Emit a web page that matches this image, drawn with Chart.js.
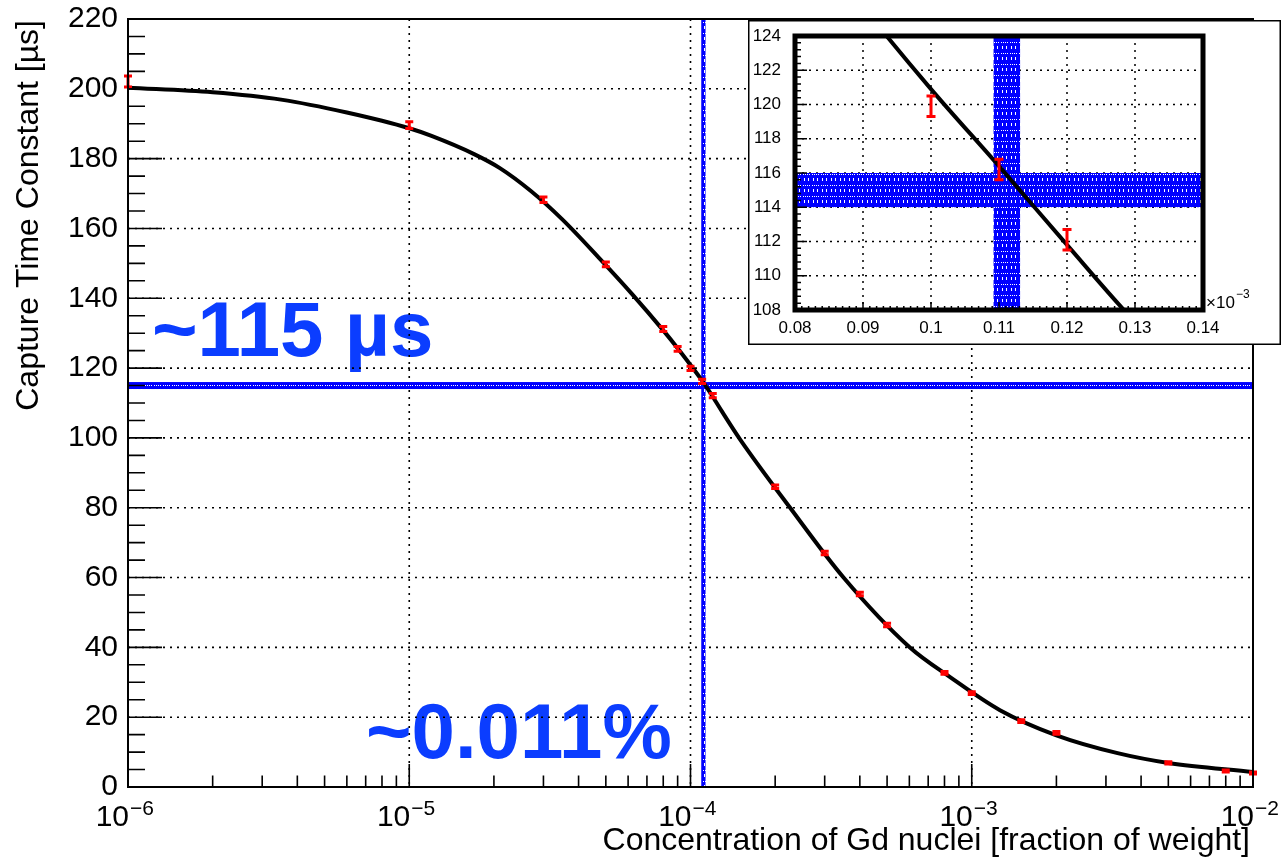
<!DOCTYPE html>
<html>
<head>
<meta charset="utf-8">
<script src="https://cdn.jsdelivr.net/npm/chart.js@4.4.0/dist/chart.umd.min.js"></script>
<style>
  html, body { margin: 0; padding: 0; background: #fff; overflow: hidden; }
  #wrap { position: relative; width: 1283px; height: 858px; }
  #main { position: absolute; left: 0; top: 0; }
  #inset { position: absolute; left: 748px; top: 20px; }
</style>
</head>
<body>
<div id="wrap">
  <canvas id="main" width="1283" height="858"></canvas>
  <canvas id="inset" width="533" height="325"></canvas>
</div>
<script>
// Measured neutron capture time constants [µs] vs Gd concentration (fraction of weight)
const concentrations = [1e-6, 1e-5, 3e-5, 5e-5, 8e-5, 9e-5, 1e-4, 1.1e-4, 1.2e-4, 2e-4, 3e-4, 4e-4, 5e-4, 8e-4, 1e-3, 1.5e-3, 2e-3, 5e-3, 8e-3, 1e-2];
const captureTimes   = [202.1, 189.6, 168.2, 149.7, 131.2, 125.5, 119.9, 116.2, 112.1, 86.0, 67.0, 55.3, 46.4, 32.7, 26.9, 18.9, 15.5, 6.9, 4.6, 4.0];
const captureErrors  = [1.6, 1.0, 0.8, 0.7, 0.7, 0.7, 0.6, 0.6, 0.6, 0.5, 0.5, 0.5, 0.5, 0.4, 0.4, 0.4, 0.4, 0.3, 0.3, 0.3];

// Fitted curve, sampled along the concentration axis
const fitConcentrations = [1e-6, 2e-6, 3.5e-6, 6e-6, 1e-5, 1.2e-5, 1.7e-5, 2.1e-5, 2.7e-5, 3.5e-5, 4.7e-5, 6.2e-5, 8e-5, 9e-5, 1e-4, 1.1e-4, 1.2e-4, 1.3e-4, 1.5e-4, 2.25e-4, 3.5e-4, 6e-4, 8.4e-4, 1.26e-3, 2e-3, 3.3e-3, 5e-3, 1e-2];
const fitTimes          = [200.3, 199.0, 196.9, 193.2, 188.7, 186.5, 181.3, 177.3, 170.8, 162.6, 151.8, 141.2, 130.8, 125.7, 120.9, 116.4, 111.8, 107.3, 99.6, 80.2, 60.0, 40.1, 31.4, 22.0, 14.8, 9.7, 6.9, 4.3];

// Chosen working point: time-constant band and concentration band
const workingTimeBand = [114, 116];
const workingConcBand = [1.092e-4, 1.131e-4];

// Axis ticks
const decadeTicks = [1e-6, 1e-5, 1e-4, 1e-3, 1e-2];
const decadeExponents = ['\u22126', '\u22125', '\u22124', '\u22123', '\u22122'];
const insetTicks = [0.08, 0.09, 0.10, 0.11, 0.12, 0.13, 0.14];
const insetTickLabels = ['0.08', '0.09', '0.1', '0.11', '0.12', '0.13', '0.14'];

const FONT = '"Liberation Sans", Arial, Helvetica, sans-serif';
Chart.defaults.font.family = FONT;
Chart.defaults.color = '#000';

const BLUE = '#0000ff';
const TEXT_BLUE = '#0b3dff';

function makeHatch(ctx) {
  const c = document.createElement('canvas');
  c.width = 9; c.height = 11;
  const g = c.getContext('2d');
  g.fillStyle = BLUE; g.fillRect(0, 0, 9, 11);
  g.fillStyle = '#ffffff';
  [1, 3, 5, 7].forEach(px => g.fillRect(px, 0, 1, 1));
  g.fillRect(2, 4, 1, 3);
  g.fillRect(6, 4, 1, 3);
  return ctx.createPattern(c, 'repeat');
}

function dottedLine(ctx, x1, y1, x2, y2) {
  ctx.beginPath();
  ctx.moveTo(x1, y1); ctx.lineTo(x2, y2);
  ctx.stroke();
}

function noScalePadding(s) {
  s.paddingTop = 0; s.paddingBottom = 0; s.paddingLeft = 0; s.paddingRight = 0;
}

function drawBands(chart, toX, xMin, xMax, yMin, yMax) {
  const { ctx, chartArea: a, scales: { x, y } } = chart;
  ctx.save();
  ctx.beginPath(); ctx.rect(a.left, a.top, a.right - a.left, a.bottom - a.top); ctx.clip();
  ctx.fillStyle = makeHatch(ctx);
  const hy1 = y.getPixelForValue(workingTimeBand[1]);
  const hy2 = y.getPixelForValue(workingTimeBand[0]);
  ctx.fillRect(x.getPixelForValue(xMin), hy1, x.getPixelForValue(xMax) - x.getPixelForValue(xMin), hy2 - hy1);
  const vx1 = x.getPixelForValue(toX(workingConcBand[0]));
  const vx2 = x.getPixelForValue(toX(workingConcBand[1]));
  ctx.fillRect(vx1, y.getPixelForValue(yMax), vx2 - vx1, y.getPixelForValue(yMin) - y.getPixelForValue(yMax));
  ctx.restore();
}

function drawErrorBars(chart, toX, capHalf, width) {
  const { ctx, chartArea: a, scales: { x, y } } = chart;
  ctx.save();
  ctx.beginPath(); ctx.rect(a.left - 8, a.top, a.right - a.left + 16, a.bottom - a.top); ctx.clip();
  ctx.strokeStyle = '#ff0000';
  ctx.lineWidth = width;
  concentrations.forEach((c, i) => {
    const px = x.getPixelForValue(toX(c));
    if (px < a.left - 1 || px > a.right + 1) return;
    const y1 = y.getPixelForValue(captureTimes[i] - captureErrors[i]);
    const y2 = y.getPixelForValue(captureTimes[i] + captureErrors[i]);
    ctx.beginPath();
    ctx.moveTo(px, y1); ctx.lineTo(px, y2);
    ctx.moveTo(px - capHalf, y1); ctx.lineTo(px + capHalf, y1);
    ctx.moveTo(px - capHalf, y2); ctx.lineTo(px + capHalf, y2);
    ctx.stroke();
  });
  ctx.restore();
}

// ---------------- main chart ----------------
const mainDecor = {
  id: 'mainDecor',
  beforeDatasetsDraw(chart) {
    const { ctx, chartArea: a, scales: { x, y } } = chart;
    // big annotations
    ctx.save();
    ctx.fillStyle = TEXT_BLUE;
    ctx.font = 'bold 78px ' + FONT;
    ctx.textAlign = 'left';
    ctx.textBaseline = 'alphabetic';
    ctx.fillText('~115 \u00b5s', 152, 356);
    ctx.fillText('~0.011%', 366, 758);
    ctx.restore();
    // dotted grid
    ctx.save();
    ctx.strokeStyle = '#000';
    ctx.lineWidth = 1.6;
    ctx.setLineDash([2, 5]);
    for (let v = 20; v < 220; v += 20) {
      const py = y.getPixelForValue(v);
      dottedLine(ctx, a.left, py, a.right, py);
    }
    decadeTicks.slice(1, -1).forEach(v => {
      const px = x.getPixelForValue(v);
      dottedLine(ctx, px, a.top, px, a.bottom);
    });
    ctx.restore();
    drawBands(chart, c => c, 1e-6, 1e-2, 0, 220);
  },
  afterDatasetsDraw(chart) {
    const { ctx, chartArea: a, scales: { x, y } } = chart;
    drawErrorBars(chart, c => c, 4, 3);
    ctx.save();
    ctx.strokeStyle = '#000';
    ctx.lineWidth = 2;
    ctx.strokeRect(a.left, a.top, a.right - a.left, a.bottom - a.top);
    // y ticks
    ctx.lineWidth = 1.6;
    ctx.beginPath();
    for (let v = 0; v <= 220; v += 5) {
      const py = y.getPixelForValue(v);
      const len = v % 20 === 0 ? 34 : 17;
      ctx.moveTo(a.left, py); ctx.lineTo(a.left + len, py);
    }
    // x ticks
    for (let d = 0; d < decadeTicks.length; d++) {
      const base = decadeTicks[d];
      const px = x.getPixelForValue(base);
      ctx.moveTo(px, a.bottom); ctx.lineTo(px, a.bottom - 23);
      if (d < decadeTicks.length - 1) {
        for (let m = 2; m <= 9; m++) {
          const pm = x.getPixelForValue(base * m);
          ctx.moveTo(pm, a.bottom); ctx.lineTo(pm, a.bottom - 11.5);
        }
      }
    }
    ctx.stroke();
    // x tick labels: 10^n
    ctx.fillStyle = '#000';
    ctx.textBaseline = 'alphabetic';
    decadeTicks.forEach((v, i) => {
      const px = x.getPixelForValue(v);
      ctx.font = '30px ' + FONT;
      ctx.textAlign = 'right';
      ctx.fillText('10', px + 1, 826);
      ctx.font = '21px ' + FONT;
      ctx.textAlign = 'left';
      ctx.fillText(decadeExponents[i], px + 2, 815);
    });
    // axis titles
    ctx.font = '32px ' + FONT;
    ctx.textAlign = 'right';
    ctx.fillText('Concentration of Gd nuclei [fraction of weight]', 1250, 850);
    ctx.translate(38, 20);
    ctx.rotate(-Math.PI / 2);
    ctx.fillText('Capture Time Constant [\u00b5s]', 0, 0);
    ctx.restore();
  }
};

new Chart(document.getElementById('main'), {
  type: 'line',
  data: {
    datasets: [
      {
        label: 'fit',
        data: fitConcentrations.map((c, i) => ({ x: c, y: fitTimes[i] })),
        borderColor: '#000',
        borderWidth: 4,
        pointRadius: 0,
        cubicInterpolationMode: 'monotone',
        fill: false
      },
      {
        label: 'measured',
        data: concentrations.map((c, i) => ({ x: c, y: captureTimes[i] })),
        showLine: false,
        pointRadius: 0,
        borderColor: '#ff0000'
      }
    ]
  },
  options: {
    responsive: false,
    animation: false,
    events: [],
    layout: { padding: { top: 19, right: 30, left: 0, bottom: 0 } },
    plugins: { legend: { display: false }, tooltip: { enabled: false } },
    scales: {
      x: {
        type: 'logarithmic', min: 1e-6, max: 1e-2,
        ticks: { display: false },
        grid: { display: false, drawTicks: false },
        border: { display: false },
        afterFit(s) { s.height = 71; noScalePadding(s); }
      },
      y: {
        min: 0, max: 220,
        ticks: { stepSize: 20, font: { size: 30 }, color: '#000', padding: 10 },
        grid: { display: false, drawTicks: false },
        border: { display: false },
        afterFit(s) { s.width = 128; noScalePadding(s); }
      }
    }
  },
  plugins: [mainDecor]
});

// ---------------- inset (zoom around the working point) ----------------
const toMilli = c => c * 1000;

const insetDecor = {
  id: 'insetDecor',
  beforeDraw(chart) {
    const { ctx, width, height } = chart;
    ctx.save();
    ctx.fillStyle = '#fff';
    ctx.fillRect(0, 0, width, height);
    ctx.strokeStyle = '#000';
    ctx.lineWidth = 1.5;
    ctx.strokeRect(0.75, 0.75, width - 1.5, height - 1.5);
    ctx.restore();
  },
  beforeDatasetsDraw(chart) {
    const { ctx, chartArea: a, scales: { x, y } } = chart;
    ctx.save();
    ctx.strokeStyle = '#000';
    ctx.lineWidth = 1.5;
    ctx.setLineDash([2, 5]);
    for (let v = 110; v < 124; v += 2) {
      const py = y.getPixelForValue(v);
      dottedLine(ctx, a.left, py, a.right, py);
    }
    insetTicks.slice(1, -1).forEach(v => {
      const px = x.getPixelForValue(v);
      dottedLine(ctx, px, a.top, px, a.bottom);
    });
    ctx.restore();
    drawBands(chart, toMilli, 0.08, 0.14, 108, 124);
  },
  afterDatasetsDraw(chart) {
    const { ctx, chartArea: a, scales: { x, y } } = chart;
    drawErrorBars(chart, toMilli, 4.5, 3);
    ctx.save();
    ctx.strokeStyle = '#000';
    ctx.lineWidth = 1.5;
    ctx.beginPath();
    for (let k = 0; k <= 40; k++) {
      const v = 108 + k * 0.4;
      const py = y.getPixelForValue(v);
      const len = k % 5 === 0 ? 12 : 6;
      ctx.moveTo(a.left, py); ctx.lineTo(a.left + len, py);
    }
    for (let k = 0; k <= 60; k++) {
      const v = 0.08 + k * 0.001;
      const px = x.getPixelForValue(v);
      const len = k % 10 === 0 ? 8 : 4;
      ctx.moveTo(px, a.bottom); ctx.lineTo(px, a.bottom - len);
    }
    ctx.stroke();
    ctx.lineWidth = 5;
    ctx.strokeRect(a.left, a.top, a.right - a.left, a.bottom - a.top);
    // axis multiplier
    ctx.fillStyle = '#000';
    ctx.textAlign = 'left';
    ctx.textBaseline = 'alphabetic';
    ctx.font = '17px ' + FONT;
    ctx.fillText('\u00d710', a.right + 3, a.bottom - 2);
    ctx.font = '12px ' + FONT;
    ctx.fillText('\u22123', a.right + 33, a.bottom - 12);
    ctx.restore();
  }
};

new Chart(document.getElementById('inset'), {
  type: 'line',
  data: {
    datasets: [
      {
        label: 'fit',
        data: fitConcentrations.map((c, i) => ({ x: toMilli(c), y: fitTimes[i] })),
        borderColor: '#000',
        borderWidth: 4,
        pointRadius: 0,
        cubicInterpolationMode: 'monotone',
        fill: false
      },
      {
        label: 'measured',
        data: concentrations.map((c, i) => ({ x: toMilli(c), y: captureTimes[i] })),
        showLine: false,
        pointRadius: 0
      }
    ]
  },
  options: {
    responsive: false,
    animation: false,
    events: [],
    layout: { padding: { top: 16, right: 78, left: 0, bottom: 0 } },
    plugins: { legend: { display: false }, tooltip: { enabled: false } },
    scales: {
      x: {
        type: 'linear', min: 0.08, max: 0.14,
        afterBuildTicks(s) { s.ticks = insetTicks.map(v => ({ value: v })); },
        ticks: {
          font: { size: 17 }, color: '#000', padding: 8,
          autoSkip: false, maxRotation: 0,
          callback: (v, i) => insetTickLabels[i]
        },
        grid: { display: false, drawTicks: false },
        border: { display: false },
        afterFit(s) { s.height = 35; noScalePadding(s); }
      },
      y: {
        min: 108, max: 124,
        ticks: { stepSize: 2, font: { size: 17 }, color: '#000', padding: 14 },
        grid: { display: false, drawTicks: false },
        border: { display: false },
        afterFit(s) { s.width = 47; noScalePadding(s); }
      }
    }
  },
  plugins: [insetDecor]
});
</script>
</body>
</html>
